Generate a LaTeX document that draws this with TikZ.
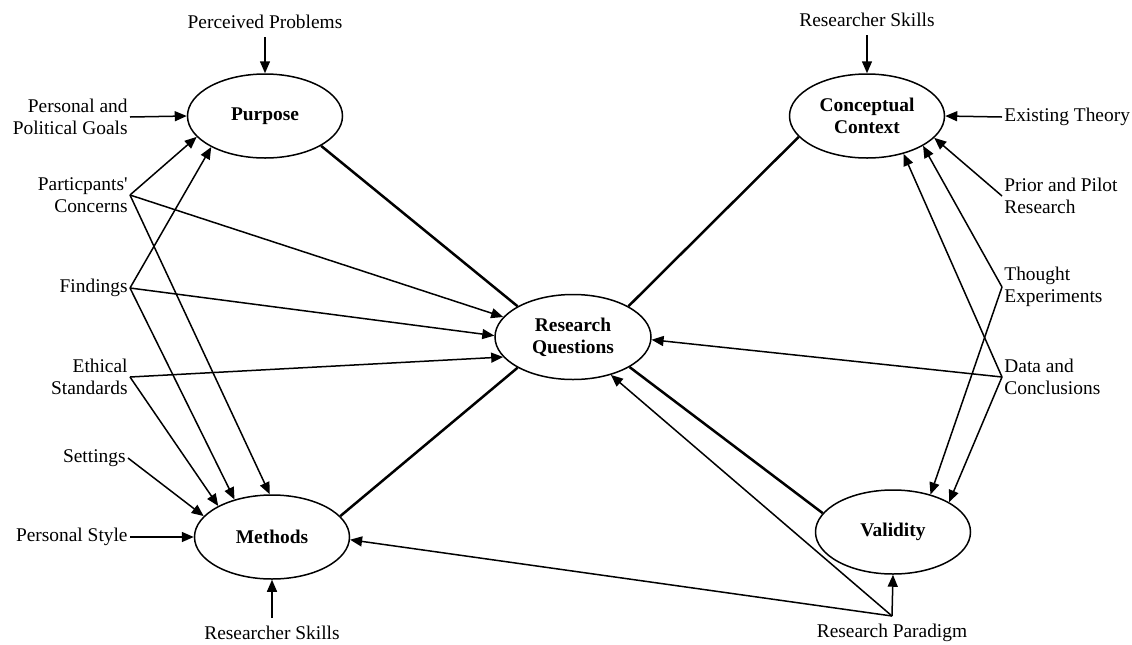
\documentclass[tikz,border=0pt]{standalone}
\usepackage{fontspec}
\setmainfont{Liberation Serif}
\usetikzlibrary{shapes.geometric, arrows.meta}

\begin{document}
\begin{tikzpicture}[x=0.5pt, y=-0.5pt,
    every node/.style={font=\fontsize{9.7}{11}\selectfont},
    bubble/.style={draw, ellipse, line width=.75pt, minimum width=77.5pt, minimum height=42pt, inner sep=0pt, align=center, font=\fontsize{9.7}{11}\selectfont\bfseries},
    lbl/.style={inner sep=1pt, align=right, anchor=east},
    rlbl/.style={inner sep=1pt, align=left, anchor=west},
    vlbl/.style={inner sep=4pt},
    arr/.style={-{Triangle[length=6pt, width=5pt]}, line width=.75pt},
    link/.style={line width=1.25pt}]
    \useasboundingbox (0,0) rectangle (1132,644);
    % the five components
    \node [bubble] (pur) at (265,116) {Purpose};
    \node [bubble] (cc) at (867,116) {Conceptual\\Context};
    \node [bubble, minimum width=78pt, minimum height=42.5pt] (rq) at (573,337) {Research\\Questions};
    \node [bubble] (met) at (272,537) {Methods};
    \node [bubble] (val) at (893,532) {Validity};
    % left side influences
    \node [vlbl, anchor=south] (pp) at (265,37) {Perceived Problems};
    \node [lbl] (pg) at (130,117) {Personal and\\Political Goals};
    \node [lbl] (pc) at (130,195) {Particpants\textquotesingle\\Concerns};
    \node [lbl] (fi) at (130,288) {Findings};
    \node [lbl] (es) at (130,377) {Ethical\\Standards};
    \node [lbl] (se) at (128,458) {Settings};
    \node [lbl] (ps) at (130,537) {Personal Style};
    \node [vlbl, anchor=north] (rs1) at (272,618) {Researcher Skills};
    % right side influences
    \node [vlbl, anchor=south] (rs2) at (867,35) {Researcher Skills};
    \node [rlbl] (et) at (1002,117) {Existing Theory};
    \node [rlbl] (pr) at (1002,196) {Prior and Pilot\\Research};
    \node [rlbl] (te) at (1002,287) {Thought\\Experiments};
    \node [rlbl] (dc) at (1002,377) {Data and\\Conclusions};
    \node [vlbl, anchor=north] (rp) at (892,616) {Research Paradigm};
    % links between components
    \draw [link] (pur.332) -- (rq.151);
    \draw [link] (cc.197) -- (rq.29);
    \draw [link] (met.17) -- (rq.209);
    \draw [link] (val.165) -- (rq.332);
    % arrows, left
    \draw [arr] (pp.south) -- (pur.north);
    \draw [arr] (pg.east) -- (pur.west);
    \draw [arr] (pc.east) -- (pur.197);
    \draw [arr] (pc.east) -- (rq.164);
    \draw [arr] (pc.east) -- (met.93);
    \draw [arr] (fi.east) -- (pur.210);
    \draw [arr] (fi.east) -- (rq.179);
    \draw [arr] (fi.east) -- (met.135);
    \draw [arr] (es.east) -- (rq.196);
    \draw [arr] (es.east) -- (met.150);
    \draw [arr] (se.east) -- (met.163);
    \draw [arr] (ps.east) -- (met.west);
    \draw [arr] (rs1.north) -- (met.south);
    % arrows, right
    \draw [arr] (rs2.south) -- (cc.north);
    \draw [arr] (et.west) -- (cc.east);
    \draw [arr] (pr.west) -- (cc.342);
    \draw [arr] (te.west) -- (cc.332);
    \draw [arr] (te.west) -- (val.45);
    \draw [arr] (dc.west) -- (cc.314);
    \draw [arr] (dc.west) -- (val.28);
    \draw [arr] (dc.west) -- (rq.358);
    \draw [arr] (rp.north) -- (val.south);
    \draw [arr] (rp.north) -- (rq.315);
    \draw [arr] (rp.north) -- (met.358);
\end{tikzpicture}
\end{document}
